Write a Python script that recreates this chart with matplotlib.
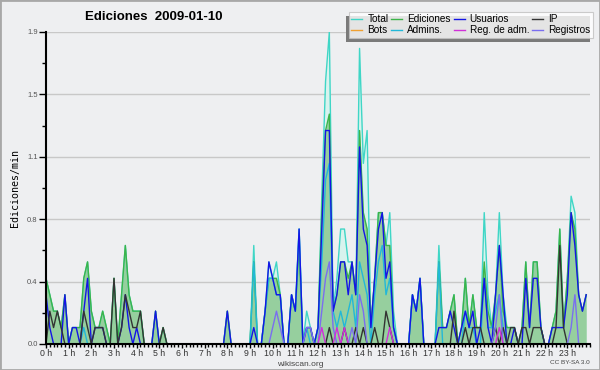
import numpy as np
import matplotlib
matplotlib.use("Agg")
import matplotlib.pyplot as plt
from matplotlib.ticker import MultipleLocator, FuncFormatter
from matplotlib.patches import Rectangle

# edits per minute, 10-minute bins (6 per hour, 144 bins)
total = [
    0.4, 0.3, 0.2, 0.2, 0.1, 0.3,   # 0h
    0.0, 0.1, 0.1, 0.1, 0.4, 0.5,   # 1h
    0.2, 0.1, 0.1, 0.2, 0.1, 0.0,   # 2h
    0.4, 0.0, 0.3, 0.6, 0.3, 0.2,   # 3h
    0.2, 0.2, 0.0, 0.0, 0.0, 0.2,   # 4h
    0.0, 0.1, 0.0, 0.0, 0.0, 0.0,   # 5h
    0.0, 0.0, 0.0, 0.0, 0.0, 0.0,   # 6h
    0.0, 0.0, 0.0, 0.0, 0.0, 0.0,   # 7h
    0.2, 0.0, 0.0, 0.0, 0.0, 0.0,   # 8h
    0.0, 0.6, 0.0, 0.0, 0.2, 0.5,   # 9h
    0.4, 0.5, 0.3, 0.0, 0.0, 0.3,   # 10h
    0.2, 0.7, 0.0, 0.2, 0.1, 0.0,   # 11h
    0.1, 0.9, 1.6, 1.9, 0.2, 0.4,   # 12h
    0.7, 0.7, 0.5, 0.5, 0.3, 1.8,   # 13h
    1.1, 1.3, 0.1, 0.4, 0.8, 0.8,   # 14h
    0.6, 0.8, 0.2, 0.0, 0.0, 0.0,   # 15h
    0.0, 0.3, 0.2, 0.4, 0.0, 0.0,   # 16h
    0.0, 0.0, 0.6, 0.1, 0.1, 0.2,   # 17h
    0.3, 0.0, 0.1, 0.4, 0.1, 0.3,   # 18h
    0.1, 0.1, 0.8, 0.3, 0.1, 0.3,   # 19h
    0.8, 0.3, 0.1, 0.1, 0.1, 0.0,   # 20h
    0.1, 0.5, 0.1, 0.5, 0.5, 0.1,   # 21h
    0.0, 0.0, 0.1, 0.2, 0.7, 0.1,   # 22h
    0.4, 0.9, 0.8, 0.3, 0.2, 0.3,   # 23h
]
ediciones = [
    0.4, 0.3, 0.2, 0.2, 0.1, 0.3,
    0.0, 0.1, 0.1, 0.1, 0.4, 0.5,
    0.2, 0.1, 0.1, 0.2, 0.1, 0.0,
    0.4, 0.0, 0.3, 0.6, 0.3, 0.2,
    0.2, 0.2, 0.0, 0.0, 0.0, 0.2,
    0.0, 0.1, 0.0, 0.0, 0.0, 0.0,
    0.0, 0.0, 0.0, 0.0, 0.0, 0.0,
    0.0, 0.0, 0.0, 0.0, 0.0, 0.0,
    0.2, 0.0, 0.0, 0.0, 0.0, 0.0,
    0.0, 0.5, 0.0, 0.0, 0.2, 0.4,
    0.4, 0.4, 0.3, 0.0, 0.0, 0.3,
    0.2, 0.6, 0.0, 0.1, 0.1, 0.0,
    0.1, 0.8, 1.3, 1.4, 0.2, 0.3,
    0.5, 0.5, 0.4, 0.5, 0.3, 1.3,
    0.8, 0.7, 0.1, 0.4, 0.8, 0.8,
    0.6, 0.6, 0.1, 0.0, 0.0, 0.0,
    0.0, 0.3, 0.2, 0.4, 0.0, 0.0,
    0.0, 0.0, 0.5, 0.1, 0.1, 0.2,
    0.3, 0.0, 0.1, 0.4, 0.1, 0.3,
    0.1, 0.1, 0.5, 0.2, 0.1, 0.3,
    0.6, 0.2, 0.1, 0.1, 0.1, 0.0,
    0.1, 0.5, 0.1, 0.5, 0.5, 0.1,
    0.0, 0.0, 0.1, 0.2, 0.7, 0.1,
    0.4, 0.8, 0.7, 0.3, 0.2, 0.3,
]
usuarios = [
    0.3, 0.1, 0.0, 0.0, 0.0, 0.3,
    0.0, 0.1, 0.1, 0.0, 0.2, 0.4,
    0.0, 0.1, 0.1, 0.1, 0.0, 0.0,
    0.0, 0.0, 0.1, 0.3, 0.1, 0.0,
    0.1, 0.0, 0.0, 0.0, 0.0, 0.2,
    0.0, 0.0, 0.0, 0.0, 0.0, 0.0,
    0.0, 0.0, 0.0, 0.0, 0.0, 0.0,
    0.0, 0.0, 0.0, 0.0, 0.0, 0.0,
    0.2, 0.0, 0.0, 0.0, 0.0, 0.0,
    0.0, 0.1, 0.0, 0.0, 0.2, 0.5,
    0.4, 0.3, 0.3, 0.0, 0.0, 0.3,
    0.2, 0.7, 0.0, 0.1, 0.1, 0.0,
    0.1, 0.7, 1.3, 1.3, 0.2, 0.3,
    0.5, 0.5, 0.3, 0.5, 0.3, 1.2,
    0.7, 0.6, 0.1, 0.4, 0.7, 0.8,
    0.4, 0.5, 0.1, 0.0, 0.0, 0.0,
    0.0, 0.3, 0.2, 0.4, 0.0, 0.0,
    0.0, 0.0, 0.1, 0.1, 0.1, 0.2,
    0.1, 0.0, 0.1, 0.2, 0.1, 0.2,
    0.0, 0.1, 0.4, 0.1, 0.0, 0.3,
    0.6, 0.3, 0.0, 0.0, 0.1, 0.0,
    0.0, 0.4, 0.1, 0.4, 0.4, 0.1,
    0.0, 0.0, 0.1, 0.1, 0.1, 0.1,
    0.3, 0.8, 0.6, 0.3, 0.2, 0.3,
]
ip = [
    0.0, 0.2, 0.1, 0.2, 0.1, 0.0,
    0.0, 0.0, 0.0, 0.0, 0.2, 0.1,
    0.0, 0.1, 0.1, 0.1, 0.0, 0.0,
    0.4, 0.0, 0.1, 0.3, 0.2, 0.1,
    0.1, 0.2, 0.0, 0.0, 0.0, 0.0,
    0.0, 0.1, 0.0, 0.0, 0.0, 0.0,
    0.0, 0.0, 0.0, 0.0, 0.0, 0.0,
    0.0, 0.0, 0.0, 0.0, 0.0, 0.0,
    0.0, 0.0, 0.0, 0.0, 0.0, 0.0,
    0.0, 0.0, 0.0, 0.0, 0.0, 0.0,
    0.0, 0.0, 0.0, 0.0, 0.0, 0.0,
    0.0, 0.0, 0.0, 0.0, 0.0, 0.0,
    0.0, 0.0, 0.0, 0.1, 0.0, 0.0,
    0.0, 0.1, 0.0, 0.0, 0.1, 0.0,
    0.1, 0.0, 0.0, 0.1, 0.0, 0.0,
    0.2, 0.1, 0.0, 0.0, 0.0, 0.0,
    0.0, 0.0, 0.0, 0.0, 0.0, 0.0,
    0.0, 0.0, 0.0, 0.0, 0.0, 0.0,
    0.2, 0.0, 0.0, 0.1, 0.0, 0.1,
    0.1, 0.1, 0.0, 0.0, 0.0, 0.1,
    0.0, 0.1, 0.0, 0.1, 0.1, 0.0,
    0.1, 0.1, 0.0, 0.1, 0.1, 0.1,
    0.0, 0.0, 0.0, 0.1, 0.6, 0.1,
    0.0, 0.0, 0.0, 0.0, 0.0, 0.0,
]
admins = [
    0.0, 0.0, 0.0, 0.0, 0.0, 0.0,
    0.0, 0.0, 0.0, 0.0, 0.1, 0.0,
    0.0, 0.0, 0.0, 0.0, 0.0, 0.0,
    0.0, 0.0, 0.0, 0.0, 0.0, 0.0,
    0.0, 0.0, 0.0, 0.0, 0.0, 0.0,
    0.0, 0.0, 0.0, 0.0, 0.0, 0.0,
    0.0, 0.0, 0.0, 0.0, 0.0, 0.0,
    0.0, 0.0, 0.0, 0.0, 0.0, 0.0,
    0.0, 0.0, 0.0, 0.0, 0.0, 0.0,
    0.0, 0.5, 0.0, 0.0, 0.2, 0.4,
    0.4, 0.3, 0.3, 0.0, 0.0, 0.3,
    0.2, 0.7, 0.0, 0.1, 0.0, 0.0,
    0.1, 0.5, 1.0, 1.1, 0.2, 0.1,
    0.2, 0.1, 0.2, 0.3, 0.1, 0.5,
    0.4, 0.3, 0.0, 0.3, 0.5, 0.6,
    0.3, 0.4, 0.1, 0.0, 0.0, 0.0,
    0.0, 0.3, 0.2, 0.4, 0.0, 0.0,
    0.0, 0.0, 0.5, 0.0, 0.0, 0.0,
    0.0, 0.0, 0.0, 0.2, 0.1, 0.1,
    0.0, 0.0, 0.4, 0.1, 0.1, 0.2,
    0.3, 0.1, 0.0, 0.0, 0.0, 0.0,
    0.0, 0.0, 0.0, 0.0, 0.0, 0.0,
    0.0, 0.0, 0.0, 0.0, 0.0, 0.0,
    0.0, 0.0, 0.0, 0.0, 0.0, 0.0,
]
reg_adm = [0.0] * 144
registros = [0.0] * 144
bots = [0.0] * 144
# sparse log actions: bin index -> value
reg_adm_pts = {73: 0.1, 77: 0.1, 79: 0.1, 91: 0.1, 120: 0.1}
registros_pts = {60: 0.1, 61: 0.2, 62: 0.1, 69: 0.1, 70: 0.1, 73: 0.2, 74: 0.4,
                 75: 0.5, 76: 0.1, 81: 0.1, 83: 0.3, 84: 0.2, 119: 0.1, 120: 0.3,
                 139: 0.1, 140: 0.3}
for k, v in reg_adm_pts.items():
    reg_adm[k] = v
for k, v in registros_pts.items():
    registros[k] = v

hours = np.arange(144) / 6.0
hour_labels = [f"{h} h" for h in range(24)]

bg = "#eeeff1"
fig = plt.figure(figsize=(6, 3.7), dpi=100, facecolor=bg)
ax = fig.add_axes([46 / 600, 1 - 344 / 370, 544 / 600, 312 / 370])
ax.set_facecolor(bg)

ax.fill_between(hours, total, color="#d8f3ee", lw=0, zorder=1)
ax.fill_between(hours, ediciones, color="#96cf9e", lw=0, zorder=2)
ax.plot(hours, bots, color="#f0a030", lw=1, zorder=2.5, label="Bots")
ax.plot(hours, total, color="#3fd6c6", lw=1, zorder=3, label="Total")
ax.plot(hours, ediciones, color="#3cb44a", lw=1, zorder=4, label="Ediciones")
ax.plot(hours, admins, color="#22b8d8", lw=1, zorder=5, label="Admins.")
ax.plot(hours, usuarios, color="#1414e6", lw=1, zorder=6, label="Usuarios")
ax.plot(hours, ip, color="#333333", lw=1, zorder=7, label="IP")
ax.plot(hours, registros, color="#7a6ef0", lw=1, zorder=8, label="Registros")
ax.plot(hours, reg_adm, color="#d030d8", lw=1, zorder=9, label="Reg. de adm.")

ax.set_xlim(0, 24)
ax.set_ylim(0, 1.9)
ax.yaxis.set_major_locator(MultipleLocator(0.38))
ax.yaxis.set_minor_locator(MultipleLocator(0.19))
ax.yaxis.set_major_formatter(FuncFormatter(lambda v, p: f"{v:.1f}"))
ax.set_xticks(range(24))
ax.set_xticklabels(hour_labels)
ax.xaxis.set_minor_locator(MultipleLocator(1 / 6))
ax.grid(axis="y", which="major", color="#c8c8c8", lw=1)
ax.set_axisbelow(True)
for s in ["top", "right"]:
    ax.spines[s].set_visible(False)
for s in ["left", "bottom"]:
    ax.spines[s].set_linewidth(1.5)
    ax.spines[s].set_zorder(20)
ax.tick_params(axis="y", which="major", length=5, width=1, labelsize=5.5,
               labelcolor="#555555", pad=1)
ax.tick_params(axis="y", which="minor", length=3, width=1)
ax.tick_params(axis="x", which="major", length=3, width=1, labelsize=6.3,
               labelcolor="#333333", pad=0.3)
ax.tick_params(axis="x", which="minor", length=2.5, width=1)
for lab in ax.get_xticklabels() + ax.get_yticklabels():
    lab.set_fontfamily("Liberation Sans")

ax.set_ylabel("Ediciones/min", fontsize=7.2, family="DejaVu Sans Mono", labelpad=5)

fig.text(85 / 600, 1 - 17 / 370, "Ediciones  2009-01-10", fontsize=9.5,
         fontweight="bold", family="Liberation Sans", va="center", ha="left")
fig.text(300 / 600, 1 - 364 / 370, "wikiscan.org", fontsize=6.0,
         family="Liberation Sans", color="#444444", ha="center", va="center")
fig.text(590 / 600, 1 - 363 / 370, "CC BY-SA 3.0", fontsize=4.6,
         family="Liberation Sans", color="#444444", ha="right", va="center")

handles, labels = ax.get_legend_handles_labels()
lookup = dict(zip(labels, handles))
order = ["Total", "Bots", "Ediciones", "Admins.", "Usuarios", "Reg. de adm.", "IP", "Registros"]
leg = fig.legend([lookup[k] for k in order], order, ncol=4, loc="upper right",
                 bbox_to_anchor=(593 / 600, 1 - 12 / 370), frameon=True, fancybox=False,
                 prop={"family": "Liberation Sans", "size": 7.2}, handlelength=1.1,
                 handletextpad=0.5, columnspacing=0.3, labelspacing=0.05,
                 borderpad=0.25, borderaxespad=0)
leg.get_frame().set_edgecolor("#c0c0c0")
leg.get_frame().set_linewidth(0.8)
leg.set_zorder(10)

fig.canvas.draw()
bb = leg.get_window_extent(fig.canvas.get_renderer()).transformed(fig.transFigure.inverted())
fig.patches.append(Rectangle((bb.x0 - 3 / 600, bb.y0 - 4 / 370), bb.width, bb.height,
                             transform=fig.transFigure, facecolor="#7a7a7a",
                             edgecolor="none", zorder=9))
fig.patches.append(Rectangle((0, 0), 1, 1, transform=fig.transFigure, fill=False,
                             edgecolor="#a8a8a8", lw=2, zorder=30))

fig.savefig("out.png", dpi=100, facecolor=bg)
